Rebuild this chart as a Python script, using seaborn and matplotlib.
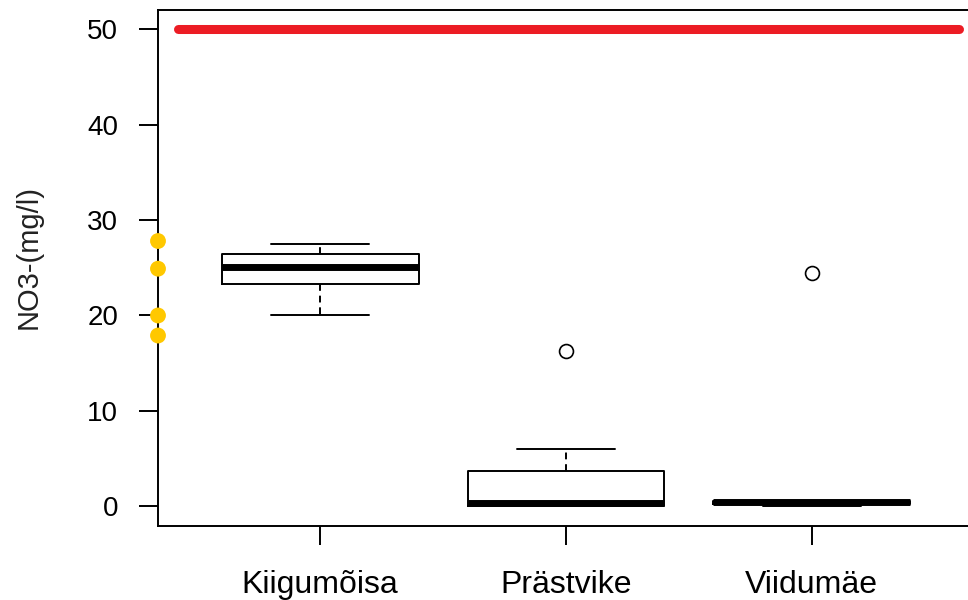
"""
NO3- boxplot per station (R-style look) with the 50 mg/l limit line.
"""
import matplotlib
matplotlib.use("Agg")
import matplotlib.pyplot as plt
import seaborn as sns

# ── data ───────────────────────────────────────────────────────
stations = ["Kiigumõisa", "Prästvike", "Viidumäe"]
q1 = [23.3, 0.0, 0.3]
median = [25.1, 0.4, 0.5]
q3 = [26.4, 3.7, 0.6]
whisker_low = [20.1, 0.0, 0.05]
whisker_high = [27.5, 6.0, 0.6]
outliers = [[], [16.3], [24.5]]

limit_value = 50
limit_span = [0.42, 3.6]
marked_values = [27.8, 24.9, 20.0, 17.9]

y_ticks = [0, 10, 20, 30, 40, 50]

sns.set_theme(style="ticks")
plt.rcParams["font.family"] = ["Liberation Sans", "DejaVu Sans"]

fig = plt.figure(figsize=(9.68, 6.0), dpi=100)
ax = fig.add_axes([158 / 968, 74.5 / 600, 816 / 968, 515.5 / 600])
x_range = (0.34, 3.66)

positions = list(range(1, len(stations) + 1))
stats = [dict(label=s, q1=a, med=m, q3=b, whislo=lo, whishi=hi, fliers=f)
         for s, a, m, b, lo, hi, f in zip(stations, q1, median, q3,
                                          whisker_low, whisker_high, outliers)]
ax.bxp(stats, positions=positions, widths=0.8, capwidths=0.4,
       boxprops=dict(color="black", lw=1.4),
       medianprops=dict(color="black", lw=5, solid_capstyle="butt"),
       whiskerprops=dict(color="black", lw=1.4, ls=(0, (3.5, 2.5))),
       capprops=dict(color="black", lw=1.4),
       flierprops=dict(marker="o", markersize=10, markerfacecolor="none",
                       markeredgecolor="black", markeredgewidth=1.2))

# limit line and marked values on the axis
sns.lineplot(x=limit_span, y=[limit_value] * len(limit_span), ax=ax,
             color="#EC1C24", lw=6.5, solid_capstyle="round")
sns.scatterplot(x=[x_range[0]] * len(marked_values), y=marked_values, ax=ax,
                color="#FFC800", s=130, edgecolor="none", clip_on=False, zorder=5)

ax.set_xlim(*x_range)
ax.set_ylim(-2, 52)
ax.set_xticks(positions)
ax.set_xticklabels(stations)
ax.set_yticks(y_ticks)
ax.set_xlabel("")
ax.set_ylabel("NO3-(mg/l)", fontsize=21, color="#222222")
ax.yaxis.set_label_coords(-0.142, 0.52)

ax.tick_params(axis="y", length=13.7, width=1.4, pad=15, labelsize=20,
               colors="black")
ax.tick_params(axis="x", length=13.7, width=1.4, pad=18.5, labelsize=23,
               colors="black")
for side in ["left", "top", "right", "bottom"]:
    ax.spines[side].set_linewidth(1.4)
    ax.spines[side].set_color("black")

fig.savefig("out.png", dpi=100)
